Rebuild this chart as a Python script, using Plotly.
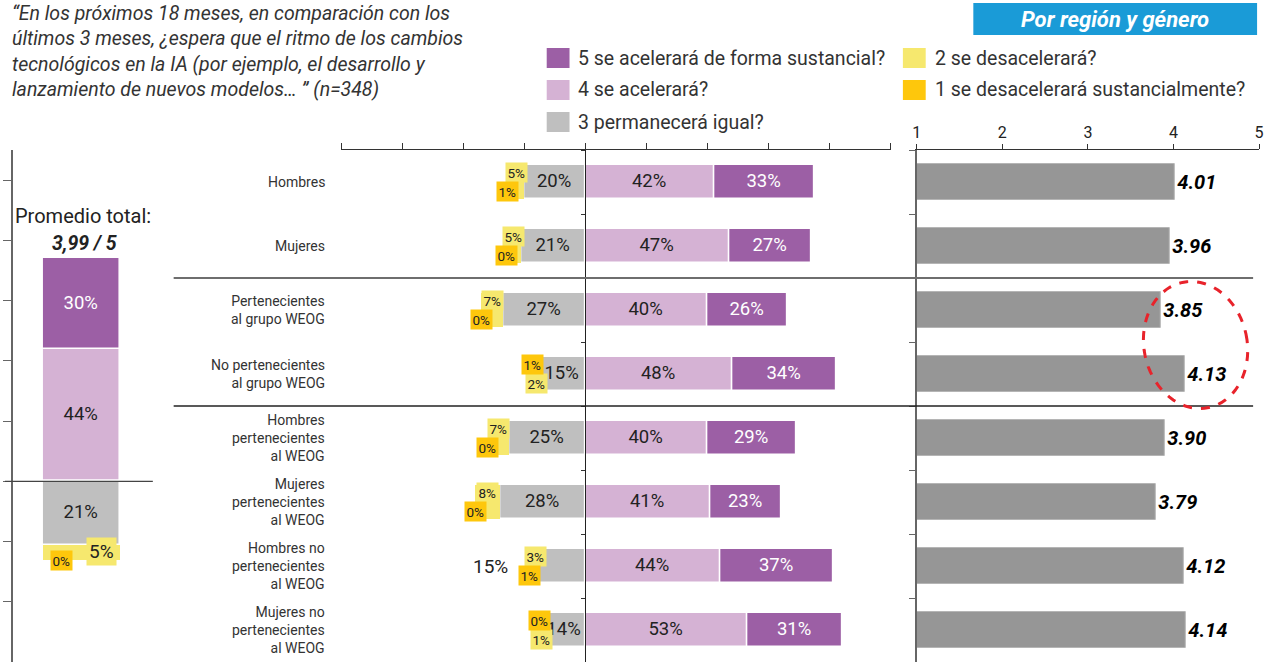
import math
import plotly.graph_objects as go

# ---- data ----
grupos = [
    "Hombres",
    "Mujeres",
    "Pertenecientes<br>al grupo WEOG",
    "No pertenecientes<br>al grupo WEOG",
    "Hombres<br>pertenecientes<br>al WEOG",
    "Mujeres<br>pertenecientes<br>al WEOG",
    "Hombres no<br>pertenecientes<br>al WEOG",
    "Mujeres no<br>pertenecientes<br>al WEOG",
]
pct_5 = [33, 27, 26, 34, 29, 23, 37, 31]
pct_4 = [42, 47, 40, 48, 40, 41, 44, 53]
pct_3 = [20, 21, 27, 15, 25, 28, 15, 14]
pct_2 = [5, 5, 7, 2, 7, 8, 3, 1]
pct_1 = [1, 0, 0, 1, 0, 0, 1, 0]
promedios = [4.01, 3.96, 3.85, 4.13, 3.90, 3.79, 4.12, 4.14]

total_5 = 30
total_4 = 44
total_3 = 21
total_2 = 5
total_1 = 0
promedio_total = 3.99

leyenda = [
    "5 se acelerará de forma sustancial?",
    "4 se acelerará?",
    "3 permanecerá igual?",
    "2 se desacelerará?",
    "1 se desacelerará sustancialmente?",
]
escala_ticks = [1, 2, 3, 4, 5]

titulo = ("“En los próximos 18 meses, en comparación con los<br>"
          "últimos 3 meses, ¿espera que el ritmo de los cambios<br>"
          "tecnológicos en la IA (por ejemplo, el desarrollo y<br>"
          "lanzamiento de nuevos modelos… ” (n=348)")

# ---- style ----
W, H = 1272, 662
FONT = "Roboto"
C5, C4, C3, C2, C1 = "#9c5fa5", "#d5b2d4", "#bfbfbf", "#f6e86e", "#fec70c"
CBAR = "#969696"
DARK = "#222222"
orange_above = [False, False, False, True, False, False, False, True]
gray_outside = [False, False, False, False, False, False, True, False]


def fx(p):
    return p / W


def fy(p):
    return 1 - p / H


def note(x, y, text, size, **kw):
    d = dict(x=fx(x), y=fy(y), xref="paper", yref="paper", text=text, showarrow=False,
             xanchor="center", yanchor="middle",
             font=dict(size=size, color=kw.pop("color", DARK), family=FONT))
    d.update(kw)
    return d


fig = go.Figure()

# ---- left panel: overall stacked column ----
left_bar_x = (77 - 8) / 141
for val, col, tcol, show in [(total_4, C4, DARK, True), (total_5, C5, "white", True),
                             (-total_3, C3, DARK, True), (-total_2, C2, DARK, False),
                             (-total_1, C1, DARK, False)]:
    fig.add_trace(go.Bar(
        x=[left_bar_x], y=[val], width=0.55, xaxis="x", yaxis="y",
        marker=dict(color=col, line=dict(color="white", width=1.5 if show else 0)),
        text=[f"{abs(val)}%" if show else ""], texttemplate="%{text}",
        textposition="inside", insidetextanchor="middle",
        textfont=dict(size=18.5, color=tcol, family=FONT),
        showlegend=False, hoverinfo="skip"))

# ---- middle panel: diverging bars ----
for vals, col, tcol, sign, show in [(pct_4, C4, DARK, 1, True), (pct_5, C5, "white", 1, True),
                                    (pct_3, C3, DARK, -1, True), (pct_2, C2, DARK, -1, False),
                                    (pct_1, C1, DARK, -1, False)]:
    if sign < 0 and show:
        txt = ["" if out else f"{v}%" for v, out in zip(vals, gray_outside)]
    elif show:
        txt = [f"{v}%" for v in vals]
    else:
        txt = ["" for v in vals]
    fig.add_trace(go.Bar(
        y=grupos, x=[sign * v for v in vals], orientation="h", width=0.52,
        xaxis="x2", yaxis="y2",
        marker=dict(color=col, line=dict(color="white", width=1.5 if show else 0)),
        text=txt, texttemplate="%{text}", textposition="inside",
        insidetextanchor="middle",
        textfont=dict(size=18.5, color=tcol, family=FONT),
        showlegend=False, hoverinfo="skip"))

# ---- right panel: averages ----
fig.add_trace(go.Bar(
    y=grupos, x=promedios, orientation="h", width=0.55, xaxis="x3", yaxis="y3",
    marker=dict(color=CBAR, line=dict(color="#b5b5b5", width=1)),
    text=[f"{v:.2f}" for v in promedios], texttemplate="<b><i>%{text}</i></b>",
    textposition="outside", textfont=dict(size=20, color="black", family=FONT),
    cliponaxis=False, showlegend=False, hoverinfo="skip"))

annotations = []
shapes = []

# small labels for categories 2 and 1, and group names
for i, g in enumerate(grupos):
    up = -1 if orange_above[i] else 1
    annotations.append(dict(
        x=-(pct_3[i] + pct_2[i] / 2), y=g, xref="x2", yref="y2",
        text=f"{pct_2[i]}%", showarrow=False, yshift=9.5 * up,
        bgcolor=C2, borderpad=1.5, font=dict(size=13.5, color=DARK, family=FONT)))
    annotations.append(dict(
        x=-(pct_3[i] + pct_2[i] + pct_1[i] / 2), y=g, xref="x2", yref="y2",
        text=f"{pct_1[i]}%", showarrow=False, yshift=-9.5 * up,
        bgcolor=C1, borderpad=1.5, font=dict(size=13.5, color=DARK, family=FONT)))
    if gray_outside[i]:
        annotations.append(dict(
            x=-(pct_3[i] + pct_2[i] + pct_1[i]), y=g, xref="x2", yref="y2",
            text=f"{pct_3[i]}%", showarrow=False, xanchor="right", xshift=-18,
            font=dict(size=19, color=DARK, family=FONT)))
    annotations.append(dict(
        x=fx(325), y=g, xref="paper", yref="y2", text=g, showarrow=False,
        xanchor="right", yanchor="middle", align="right",
        font=dict(size=14, color="#333333", family=FONT)))

# left panel small labels
annotations.append(dict(
    x=left_bar_x, y=-(total_3 + total_2 / 2), xref="x", yref="y",
    text=f"{total_2}%", showarrow=False, xshift=20, yshift=1,
    bgcolor=C2, borderpad=2, font=dict(size=19, color=DARK, family=FONT)))
annotations.append(dict(
    x=left_bar_x, y=-(total_3 + total_2 + total_1), xref="x", yref="y",
    text=f"{total_1}%", showarrow=False, xshift=-20, yshift=-1,
    bgcolor=C1, borderpad=1.5, font=dict(size=13.5, color=DARK, family=FONT)))
annotations.append(note(79, 216, "Promedio total:", 20))
annotations.append(note(80, 243, f"<b><i>{promedio_total:.2f}".replace(".", ",")
                        + " / 5</i></b>", 19.5))

# title
annotations.append(note(5, 0, titulo, 19.5, xanchor="left", yanchor="top", align="left",
                        color="#333333"))
annotations[-1]["font"]["style"] = "italic"

# blue header box
shapes.append(dict(type="rect", xref="paper", yref="paper", x0=fx(976), x1=fx(1262),
                   y0=fy(35), y1=fy(3), fillcolor="#1a9bd7", line=dict(width=0)))
annotations.append(note(1119, 19, "<b><i>Por región y género</i></b>", 22, color="white"))

# legend
leg_colors = [C5, C4, C3, C2, C1]
leg_pos = [(546, 58), (546, 90), (546, 122), (905, 58), (905, 90)]
for lbl, col, (lx, ly) in zip(leyenda, leg_colors, leg_pos):
    shapes.append(dict(type="rect", xref="paper", yref="paper", x0=fx(lx), x1=fx(lx + 23),
                       y0=fy(ly + 10), y1=fy(ly - 10), fillcolor=col, line=dict(width=0)))
    annotations.append(note(lx + 30, ly, lbl, 19.5, xanchor="left", color="#333333"))

# separators
shapes.append(dict(type="line", xref="paper", yref="y2", x0=fx(170), x1=fx(1258),
                   y0=1.5, y1=1.5, line=dict(color="#6e6e6e", width=2)))
shapes.append(dict(type="line", xref="paper", yref="y2", x0=fx(170), x1=fx(1258),
                   y0=3.5, y1=3.5, line=dict(color="#222222", width=1.3)))
shapes.append(dict(type="line", xref="paper", yref="y", x0=0, x1=fx(149),
                   y0=0, y1=0, line=dict(color="#444444", width=1.3)))

# red highlight (tilted ellipse)
cx, cy, ra, rb, tilt = 1200, 345, 64, 52, math.radians(-12)
pts = []
for k in range(73):
    t = 2 * math.pi * k / 72
    px = cx + rb * math.cos(t) * math.cos(tilt) - ra * math.sin(t) * math.sin(tilt)
    py = cy + rb * math.cos(t) * math.sin(tilt) + ra * math.sin(t) * math.cos(tilt)
    pts.append(f"{fx(px):.5f},{fy(py):.5f}")
shapes.append(dict(type="path", xref="paper", yref="paper", path="M" + " L".join(pts) + " Z",
                   line=dict(color="#e8232b", width=3, dash="dash")))

top = fy(150)
fig.update_layout(
    width=W, height=H, margin=dict(l=0, r=0, t=0, b=0),
    paper_bgcolor="white", plot_bgcolor="rgba(0,0,0,0)",
    barmode="relative", bargap=0,
    font=dict(family=FONT, color=DARK),
    xaxis=dict(domain=[fx(8), fx(149)], range=[0, 1], visible=False, fixedrange=True),
    yaxis=dict(domain=[0, top], range=[-60, 110], tickvals=[-40, -20, 0, 20, 40, 60, 80, 100],
               showticklabels=False, ticks="outside", ticklen=8, tickcolor="#666666",
               showline=True, linecolor="#666666", linewidth=2, showgrid=False,
               zeroline=False),
    xaxis2=dict(domain=[fx(339), fx(893)], range=[-80, 100], anchor="y2", side="top",
                tickvals=list(range(-80, 101, 20)), showticklabels=False, ticks="outside",
                ticklen=6, tickcolor="#333333", showline=True, linecolor="#333333",
                linewidth=1, showgrid=False, zeroline=False),
    yaxis2=dict(domain=[0, top], anchor="free", position=fx(585), type="category",
                categoryorder="array", categoryarray=grupos, range=[7.5, -0.5],
                tickson="boundaries", ticks="outside", ticklen=4, tickcolor="#333333",
                showticklabels=False, showline=True, linecolor="#222222", linewidth=1,
                showgrid=False),
    xaxis3=dict(domain=[fx(919), fx(1264)], range=[1, 5], anchor="y3", side="top",
                tickvals=escala_ticks, ticks="outside", ticklen=5, tickcolor="#333333",
                showline=True, linecolor="#333333", linewidth=1, showgrid=False,
                zeroline=False, tickfont=dict(size=16, color=DARK, family=FONT)),
    yaxis3=dict(domain=[0, top], anchor="x3", type="category", categoryorder="array",
                categoryarray=grupos, range=[7.5, -0.5], tickson="boundaries",
                ticks="outside", ticklen=6, tickcolor="#666666", showticklabels=False,
                showline=True, linecolor="#666666", linewidth=2, showgrid=False),
    annotations=annotations, shapes=shapes,
)

fig.write_html("out.html", config={"displayModeBar": False},
               post_script="document.body.style.margin='0';"
                           "document.body.style.overflow='hidden';")
